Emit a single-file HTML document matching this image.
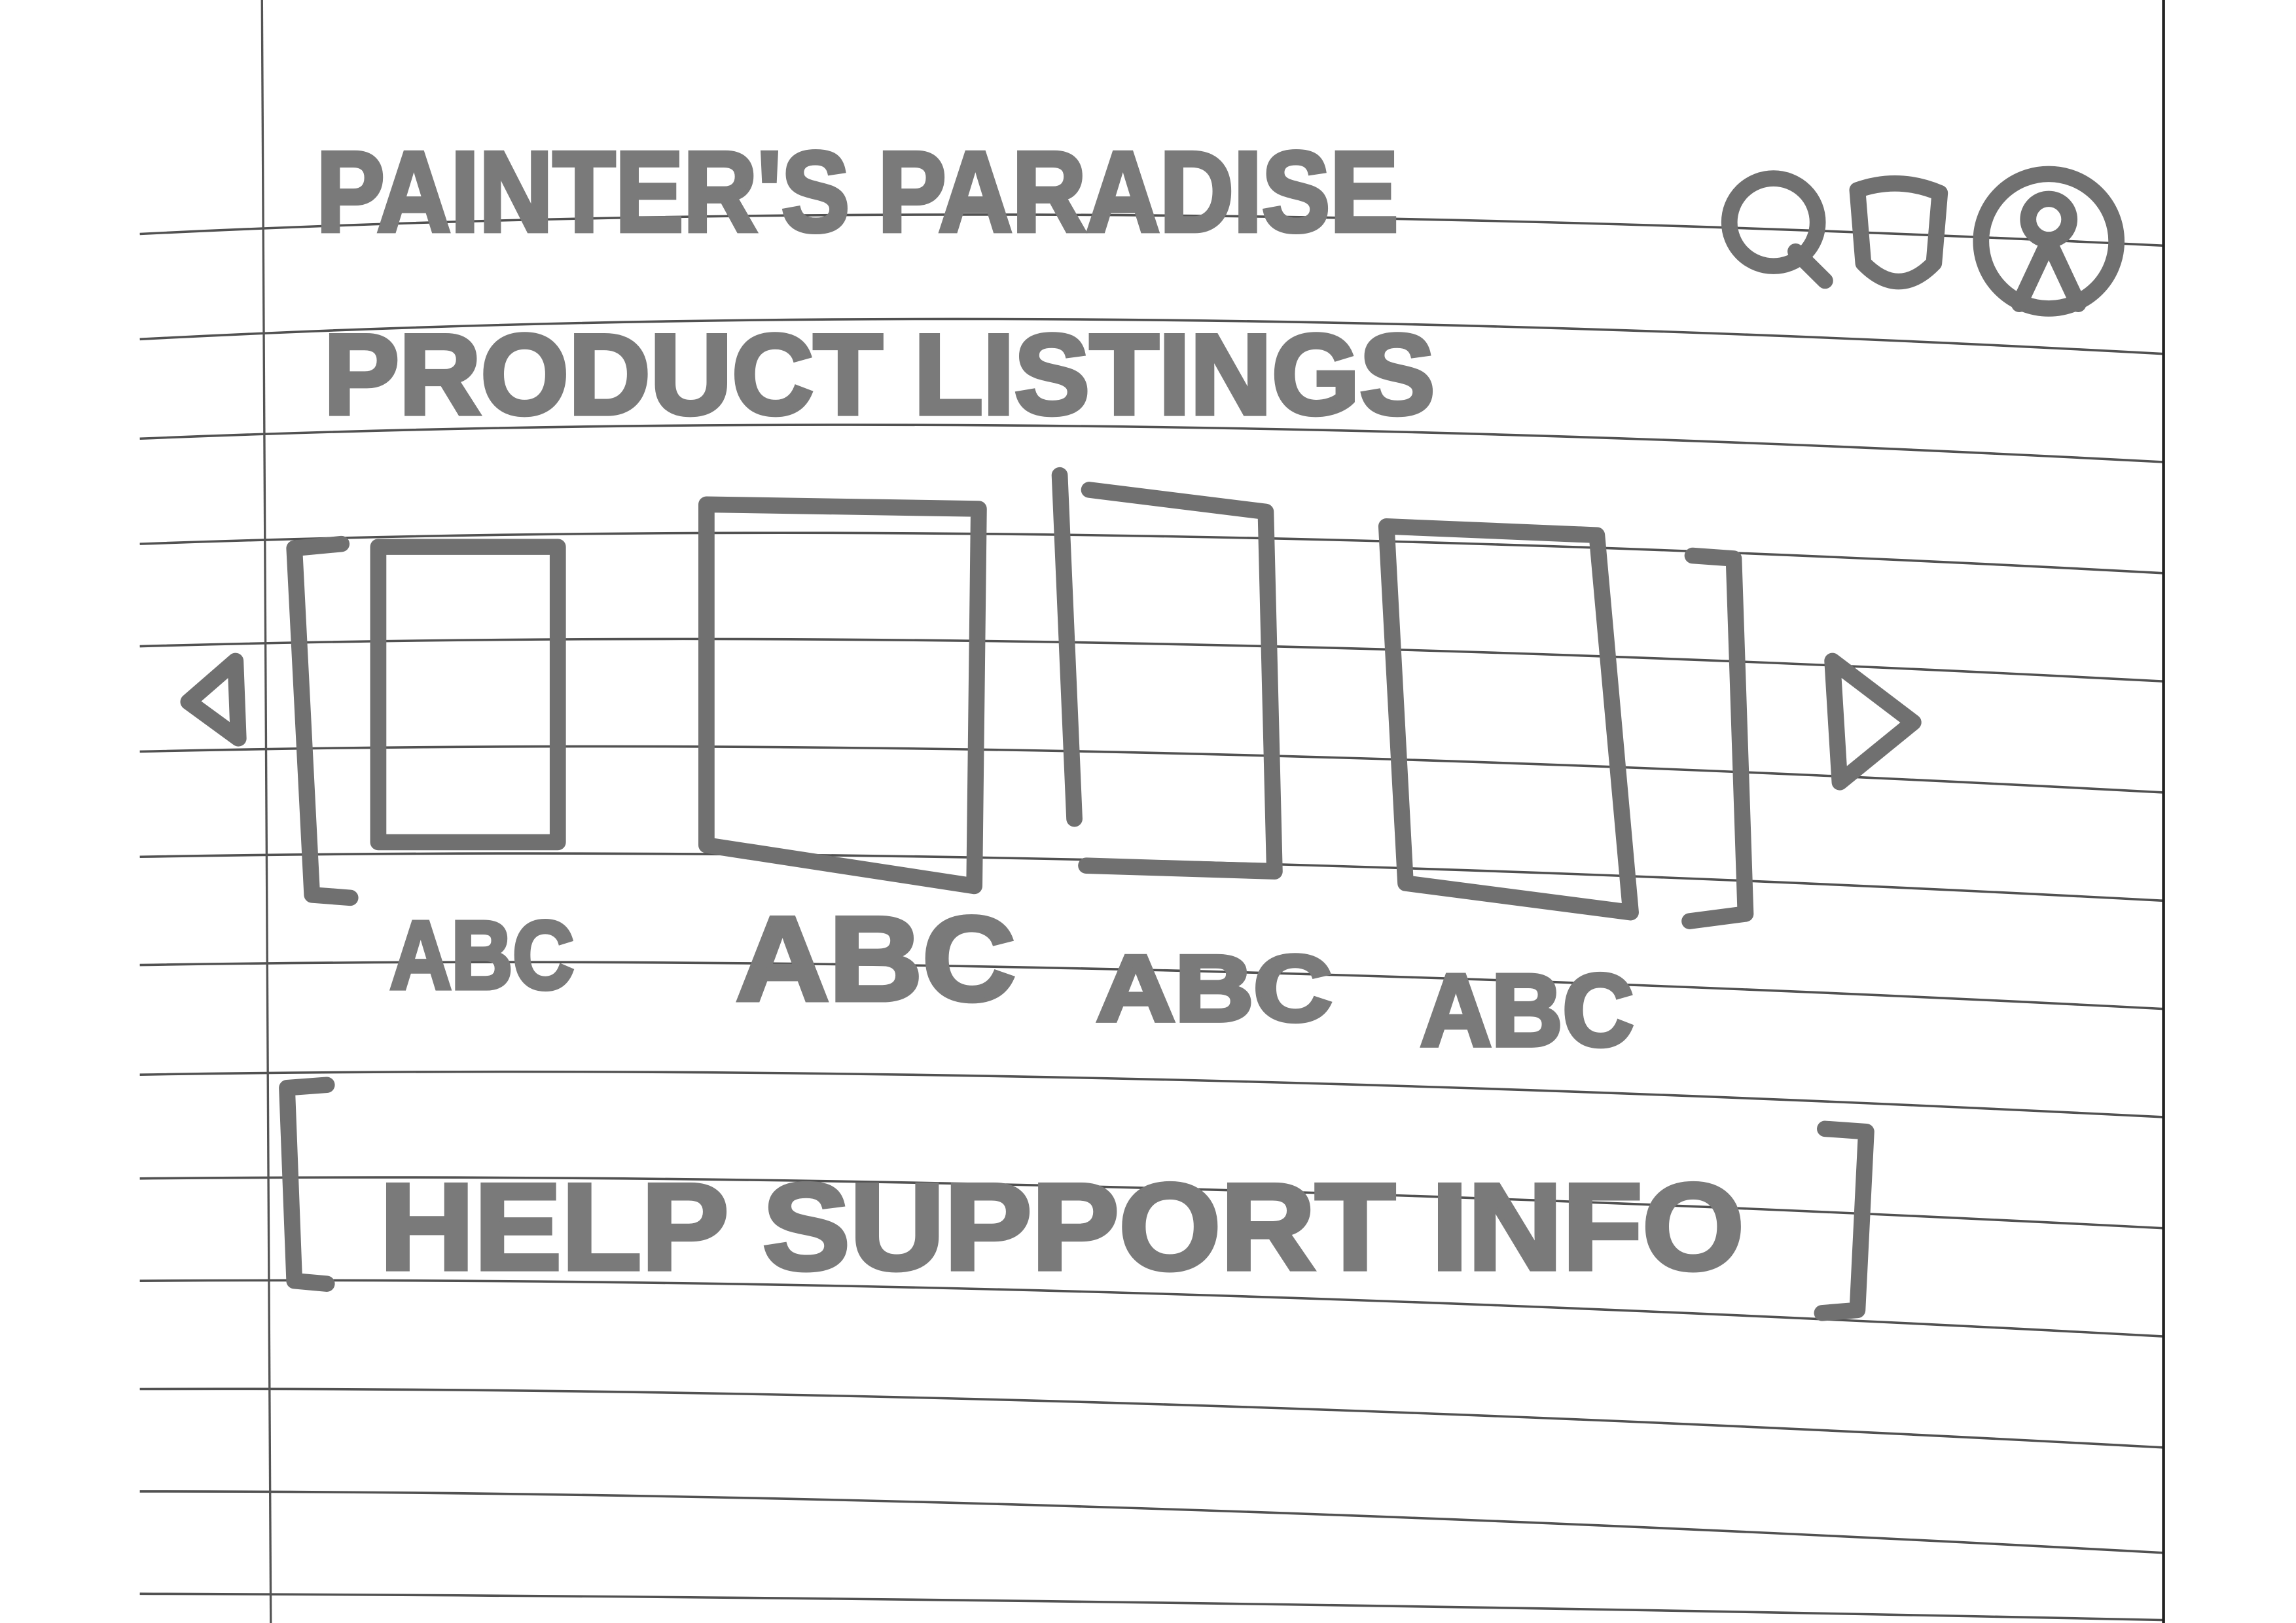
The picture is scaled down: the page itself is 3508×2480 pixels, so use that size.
<!DOCTYPE html>
<html><head><meta charset="utf-8"><style>
html,body{margin:0;padding:0;background:#fff;}
svg{display:block;}
</style></head><body>
<svg width="3508" height="2480" viewBox="0 0 1560 1110" preserveAspectRatio="none" xmlns="http://www.w3.org/2000/svg">
<rect width="1560" height="1110" fill="#fff"/>
<g stroke="#333" stroke-width="1.6" fill="none" opacity="0.85">
<path d="M95 160 Q700 130 1470 168"/>
<path d="M95 232 Q700 200 1470 242"/>
<path d="M95 300 Q700 275 1470 316"/>
<path d="M95 372 Q700 350 1470 392"/>
<path d="M95 442 Q700 425 1470 466"/>
<path d="M95 514 Q700 500 1470 542"/>
<path d="M95 586 Q700 575 1470 616"/>
<path d="M95 660 Q700 650 1470 690"/>
<path d="M95 735 Q700 725 1470 764"/>
<path d="M95 806 Q700 800 1470 840"/>
<path d="M95 876 Q700 872 1470 914"/>
<path d="M95 950 Q700 948 1470 990"/>
<path d="M95 1020 Q700 1020 1470 1062"/>
<path d="M95 1090 Q700 1092 1470 1108"/>
</g>
<path d="M178 0 L184 1110" stroke="#555" stroke-width="1.5"/>
<path d="M1470 0 L1470 1110" stroke="#222" stroke-width="2"/>
<g font-family="Liberation Sans, sans-serif" font-weight="bold" fill="#7a7a7a" stroke="#7a7a7a" stroke-width="3">
<text x="215" y="158" font-size="78" textLength="735" lengthAdjust="spacingAndGlyphs">PAINTER'S PARADISE</text>
<text x="220" y="283" font-size="78" textLength="755" lengthAdjust="spacingAndGlyphs">PRODUCT LISTINGS</text>
<text x="265" y="676" font-size="66" textLength="125" lengthAdjust="spacingAndGlyphs">ABC</text>
<text x="500" y="684" font-size="82" textLength="190" lengthAdjust="spacingAndGlyphs">ABC</text>
<text x="745" y="698" font-size="64" textLength="160" lengthAdjust="spacingAndGlyphs">ABC</text>
<text x="965" y="715" font-size="70" textLength="145" lengthAdjust="spacingAndGlyphs">ABC</text>
<text x="258" y="868" font-size="84" textLength="927" lengthAdjust="spacingAndGlyphs">HELP SUPPORT INFO</text>
</g>
<g stroke="#707070" stroke-width="11" fill="none" stroke-linecap="round" stroke-linejoin="round">
<!-- icons -->
<circle cx="1205" cy="152" r="30"/>
<path d="M1220 172 L1240 192"/>
<path d="M1262 130 Q1290 120 1318 132 L1314 180 Q1290 205 1266 180 Z"/>
<circle cx="1392" cy="165" r="46"/>
<circle cx="1392" cy="150" r="14"/>
<path d="M1372 208 L1392 165 L1412 208"/>
<!-- carousel -->
<path d="M232 372 L200 375 L212 612 L238 614"/>
<rect x="257" y="374" width="122" height="202"/>
<path d="M480 345 L665 348 L662 606 L480 578 Z"/>
<path d="M720 325 L730 560"/>
<path d="M740 335 L860 350 L866 596 L738 592"/>
<path d="M942 360 L1085 366 L1108 624 L955 604 Z"/>
<path d="M1150 380 L1178 382 L1186 625 L1148 630"/>
<path d="M160 452 L128 480 L162 505 Z"/>
<path d="M1245 452 L1300 494 L1250 535 Z"/>
<!-- help brackets -->
<path d="M222 742 L195 744 L200 876 L222 878"/>
<path d="M1240 772 L1268 774 L1262 896 L1238 898"/>
</g>
</svg>
</body></html>
